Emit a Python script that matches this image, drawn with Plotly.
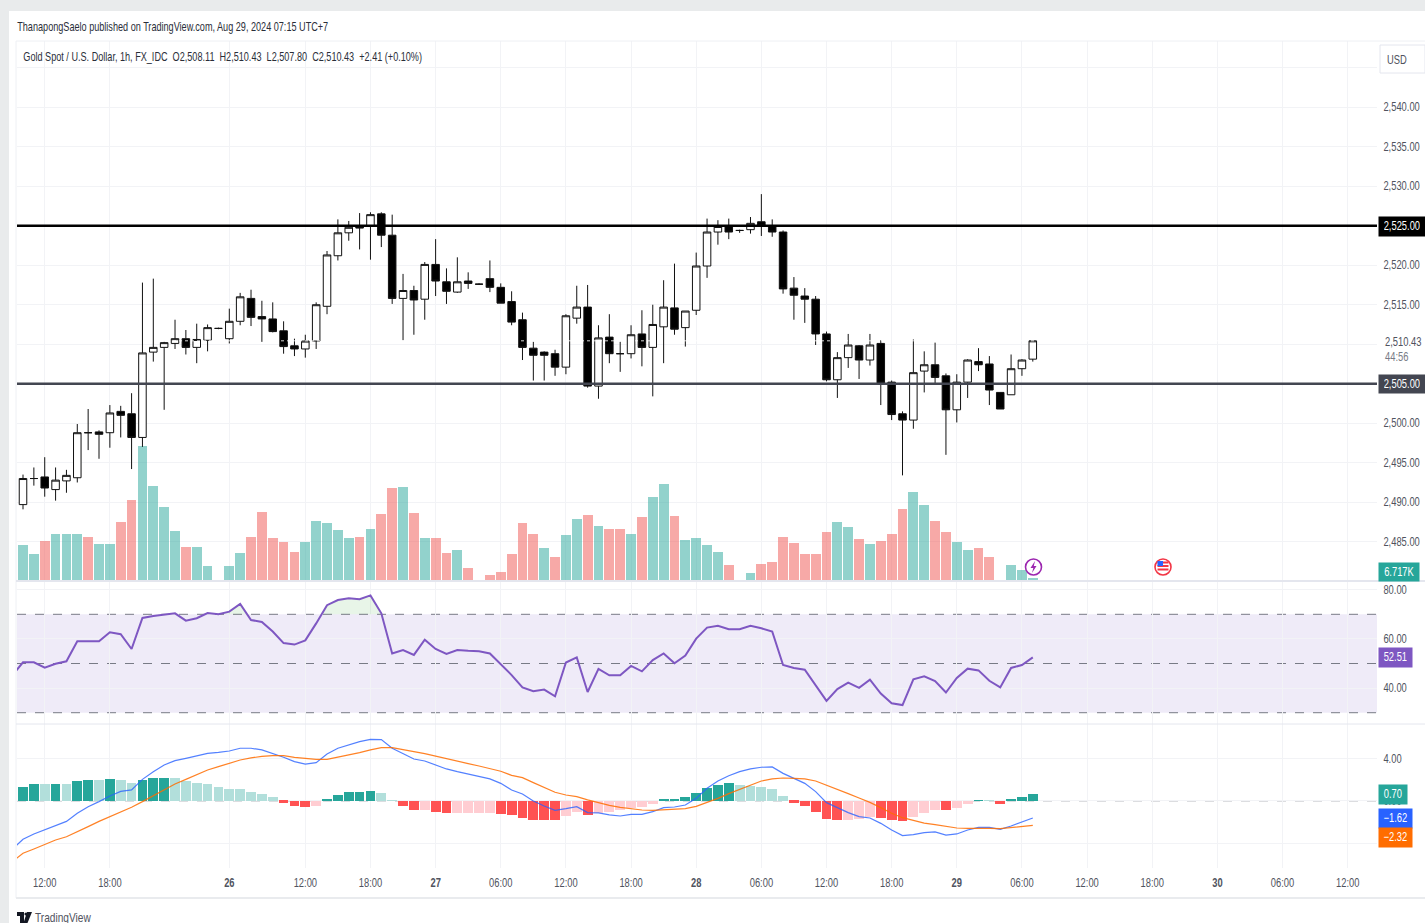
import numpy as np
import plotly.graph_objects as go

W, H = 1425, 923

# ---- price data (1h candles) ----
open_ = [2489.7,2493.0,2493.2,2491.6,2492.7,2493.1,2498.8,2498.9,2498.8,2501.5,2501.2,2498.2,2509.0,2509.6,2510.1,2510.7,2509.6,2510.5,2512.0,2510.7,
 2512.9,2515.8,2513.5,2513.2,2511.7,2509.8,2509.4,2510.4,2514.8,2521.2,2524.1,2525.0,2525.0,2526.5,2523.8,2515.8,2516.8,2515.7,2520.1,2517.9,
 2516.6,2518.0,2517.6,2518.3,2517.2,2515.4,2513.1,2509.5,2509.0,2508.8,2507.1,2513.3,2514.7,2504.7,2510.9,2508.8,2508.8,2511.3,2509.6,2512.2,
 2514.6,2512.1,2514.3,2519.9,2524.2,2525.0,2524.4,2524.5,2525.5,2525.0,2524.2,2517.1,2516.1,2515.7,2511.3,2505.5,2508.3,2509.8,2508.0,2510.1,
 2505.2,2501.2,2500.4,2506.6,2507.4,2506.0,2501.7,2505.2,2507.8,2507.5,2503.9,2503.6,2506.9,2508.11]
high = [2493.5,2494.4,2495.7,2494.4,2494.1,2499.9,2501.8,2499.1,2502.3,2502.2,2503.8,2517.8,2518.3,2510.3,2513.1,2511.8,2512.6,2512.5,2512.1,2514.5,
 2516.5,2516.9,2515.5,2515.3,2512.9,2510.7,2511.2,2515.3,2521.8,2525.8,2525.6,2526.6,2526.7,2526.7,2526.4,2518.9,2517.4,2520.4,2523.3,2519.6,
 2521.0,2519.1,2517.7,2520.6,2517.7,2516.7,2514.0,2510.3,2509.1,2509.3,2513.8,2517.4,2517.5,2512.4,2513.8,2510.3,2512.4,2514.3,2515.0,2518.1,
 2520.2,2514.2,2521.6,2525.9,2525.7,2525.9,2524.5,2526.1,2529.0,2525.8,2524.4,2518.5,2517.1,2516.1,2511.6,2509.0,2511.3,2509.9,2511.3,2510.5,
 2505.4,2501.5,2510.6,2509.1,2510.2,2506.3,2506.2,2508.1,2509.5,2508.5,2503.9,2508.7,2508.1,2510.43]
low = [2489.1,2492.1,2490.7,2490.2,2491.2,2492.5,2496.6,2495.5,2496.9,2498.2,2494.2,2497.0,2507.8,2501.7,2509.4,2508.7,2507.6,2509.1,2511.9,2510.1,
 2512.4,2512.3,2510.3,2511.5,2508.8,2508.5,2508.3,2509.4,2513.8,2520.6,2523.1,2522.0,2520.7,2522.3,2515.1,2510.5,2511.2,2513.1,2516.1,2515.1,
 2516.5,2517.0,2517.5,2516.6,2515.2,2512.4,2508.0,2505.4,2505.4,2506.0,2506.2,2512.6,2504.5,2503.1,2507.6,2506.5,2508.2,2507.2,2503.4,2507.6,
 2511.2,2509.7,2513.7,2518.4,2522.6,2523.3,2524.1,2524.0,2523.7,2523.6,2516.4,2513.1,2512.7,2509.9,2505.3,2503.2,2507.0,2505.6,2507.3,2502.3,
 2500.4,2493.4,2499.3,2503.9,2504.9,2496.0,2500.1,2503.2,2506.6,2502.3,2501.8,2503.6,2506.0,2507.80]
close = [2493.0,2493.0,2491.8,2492.8,2493.4,2498.8,2498.8,2498.6,2501.3,2501.0,2498.2,2508.9,2509.6,2510.2,2510.7,2509.6,2510.6,2512.1,2512.0,2512.9,
 2516.0,2513.4,2513.2,2511.6,2509.7,2509.4,2510.4,2515.0,2521.3,2524.1,2524.8,2524.7,2526.4,2523.8,2515.8,2516.8,2515.6,2520.1,2518.0,2516.7,
 2517.9,2517.7,2517.6,2517.2,2515.2,2512.8,2509.6,2508.6,2508.6,2507.1,2513.6,2514.7,2504.7,2510.8,2508.8,2508.8,2511.2,2509.6,2512.5,2514.7,
 2511.9,2514.2,2519.9,2524.2,2524.9,2524.2,2524.4,2525.3,2525.0,2524.2,2517.0,2516.2,2515.7,2511.3,2505.5,2508.3,2509.9,2508.0,2509.9,2505.1,
 2501.1,2500.4,2506.4,2507.4,2505.8,2501.7,2505.2,2508.0,2507.4,2504.2,2501.8,2506.9,2508.0,2510.43]

vol_k = [73,55,81,94,94,94,88,75,75,119,162,271,191,149,101,68,68,31,3,31,
 57,88,139,86,79,59,79,121,117,103,86,88,105,134,186,188,136,86,86,57,
 62,27,3,13,18,55,117,94,66,48,92,125,133,111,105,105,94,129,168,194,
 131,83,87,73,59,33,3,17,35,39,89,77,55,55,98,118,109,85,74,81,
 94,144,179,153,120,98,79,63,66,48,3,33,22,6.717]
vol_dir = ["u","u","d","u","u","u","d","u","u","d","d","u","u","u","u","d","u","u","d","u",
 "u","d","d","d","d","d","u","u","u","u","u","d","u","d","d","u","d","u","d","d",
 "u","d","d","d","d","d","d","d","u","d","u","u","d","u","d","d","u","d","u","u",
 "d","u","u","u","u","d","d","u","d","d","d","d","d","d","d","u","u","d","u","d",
 "d","d","u","u","d","d","u","u","d","d","d","u","u","u"]

rsi = [50.5,50.5,48.3,49.9,50.9,59.0,59.0,59.0,62.7,61.9,55.9,68.5,69.3,69.9,70.4,67.4,68.4,70.5,70.0,71.1,
 74.2,67.7,66.9,63.0,58.3,57.7,59.4,66.3,73.7,75.8,76.5,76.1,77.7,70.4,54.1,55.5,53.5,59.7,55.9,53.9,
 55.5,55.2,55.0,54.1,49.7,45.3,40.3,38.7,39.4,36.7,50.4,52.5,38.4,47.8,45.2,45.2,49.0,46.8,51.4,54.1,
 50.1,53.2,60.1,64.6,65.3,63.9,63.9,65.3,64.3,63.0,49.4,48.2,47.5,41.3,34.8,39.6,42.2,40.1,43.4,37.8,
 33.8,33.1,43.6,44.8,42.9,38.2,44.1,47.9,47.2,43.0,40.3,48.2,49.4,52.51]
rsi_before_first = 45.1

macd = [-3.65,-3.14,-2.76,-2.35,-1.94,-1.17,-0.54,-0.06,0.48,0.92,1.05,2.06,2.79,3.43,3.84,4.06,4.32,4.54,4.63,4.76,
 5.02,5.02,4.86,4.54,4.16,3.75,3.52,3.65,4.48,5.02,5.37,5.65,5.87,5.84,5.02,4.54,4.00,3.81,3.43,3.05,
 2.79,2.57,2.32,2.10,1.68,1.05,0.67,0.00,-0.48,-0.89,-0.73,-0.54,-1.11,-1.14,-1.33,-1.43,-1.27,-1.27,-1.02,-0.63,
 -0.57,-0.38,0.25,1.21,1.90,2.41,2.79,3.05,3.21,3.24,2.63,2.16,1.68,0.89,-0.16,-0.63,-1.11,-1.49,-1.62,-2.13,
 -2.76,-3.30,-3.21,-3.02,-2.95,-3.24,-3.14,-2.76,-2.51,-2.51,-2.70,-2.38,-2.00,-1.62]
macd_before_first = -4.6
signal = [-4.98,-4.57,-4.13,-3.71,-3.40,-2.95,-2.44,-1.94,-1.49,-1.02,-0.60,-0.06,0.48,1.05,1.62,2.06,2.54,2.95,3.27,3.59,
 3.90,4.10,4.25,4.32,4.32,4.16,4.03,3.97,3.97,4.16,4.35,4.60,4.86,5.08,5.08,4.92,4.70,4.51,4.29,4.03,
 3.81,3.56,3.33,3.11,2.83,2.44,2.22,1.75,1.27,0.83,0.57,0.41,0.10,-0.16,-0.41,-0.60,-0.73,-0.86,-0.89,-0.86,
 -0.79,-0.73,-0.51,-0.16,0.25,0.70,1.11,1.52,1.90,2.10,2.19,2.16,2.10,1.90,1.52,1.11,0.70,0.29,-0.13,-0.63,
 -1.17,-1.59,-1.87,-2.10,-2.25,-2.44,-2.57,-2.60,-2.57,-2.60,-2.63,-2.51,-2.41,-2.32]
signal_before_first = -5.78

hist = [1.37,1.59,1.59,1.59,1.59,1.90,2.00,2.00,2.10,2.00,1.71,2.00,2.22,2.22,2.22,1.90,1.71,1.62,1.37,1.17,
 1.17,0.86,0.67,0.35,-0.16,-0.48,-0.57,-0.48,0.16,0.54,0.86,0.86,0.98,0.76,0.06,-0.48,-0.89,-0.89,-1.02,-1.11,
 -1.11,-1.11,-1.11,-1.11,-1.21,-1.30,-1.62,-1.81,-1.81,-1.81,-1.40,-1.02,-1.30,-1.11,-1.02,-0.86,-0.70,-0.57,-0.25,0.16,
 0.16,0.35,0.76,1.27,1.56,1.68,1.56,1.46,1.37,1.17,0.48,-0.16,-0.48,-1.02,-1.71,-1.81,-1.81,-1.71,-1.52,-1.62,
 -1.81,-1.90,-1.49,-1.11,-0.89,-0.89,-0.67,-0.25,0.06,0.02,-0.25,0.16,0.35,0.70]
hist_kind = ["G","G","g","G","g","G","G","g","G","g","g","G","G","G","g","g","g","g","g","g",
 "g","g","g","g","R","R","R","r","G","G","G","G","G","g","g","R","R","r","R","R",
 "r","r","r","r","R","R","R","R","R","R","r","r","R","r","r","r","r","r","r","G",
 "G","G","G","G","G","G","g","g","g","g","g","R","R","R","R","R","r","r","r","R",
 "R","R","r","r","r","R","r","r","G","g","R","G","G","G"]

tick_index = [2,8,19,26,32,38,44,50,56,62,68,74,80,86,92,98,104,110,116,122]
tick_text = ["12:00","18:00","<b>26</b>","12:00","18:00","<b>27</b>","06:00","12:00","18:00","<b>28</b>","06:00","12:00","18:00","<b>29</b>","06:00","12:00","18:00","<b>30</b>","06:00","12:00"]
price_ticks = [2545,2540,2535,2530,2525,2520,2515,2510,2505,2500,2495,2490,2485]
price_tick_text = ["","2,540.00","2,535.00","2,530.00","","2,520.00","2,515.00","","","2,500.00","2,495.00","2,490.00","2,485.00"]
rsi_ticks = [80,60,40]
rsi_tick_text = ["80.00","60.00","40.00"]
macd_ticks = [4,0,-4]
macd_tick_text = ["4.00","0.00","\u22124.00"]
res_level, sup_level = 2525.0, 2505.0

FONT = "Liberation Sans"
GRID = "#f2f3f6"
TXT = "#50535e"
idx = np.arange(len(close))
X = lambda px: px / W
Y = lambda py: 1 - py / H

fig = go.Figure()

vol_col = {"u": "rgba(38,166,154,0.5)", "d": "rgba(239,83,80,0.5)"}
fig.add_trace(go.Bar(x=idx, y=vol_k, width=0.9, marker=dict(color=[vol_col[d] for d in vol_dir], line=dict(width=0)),
                     yaxis="y", xaxis="x", showlegend=False))
fig.add_trace(go.Candlestick(x=idx, open=open_, high=high, low=low, close=close, yaxis="y2", xaxis="x",
    increasing=dict(line=dict(color="#111111", width=1), fillcolor="#ffffff"),
    decreasing=dict(line=dict(color="#111111", width=1), fillcolor="#000000"),
    whiskerwidth=0, showlegend=False))

rx = np.concatenate([[-1], idx]).astype(float)
ry = np.array([rsi_before_first] + rsi, dtype=float)
ox, oy = [], []
for k in range(len(rx) - 1):
    ox.append(rx[k]); oy.append(max(ry[k], 70))
    if (ry[k] - 70) * (ry[k + 1] - 70) < 0:
        ox.append(rx[k] + (70 - ry[k]) / (ry[k + 1] - ry[k])); oy.append(70)
ox.append(rx[-1]); oy.append(max(ry[-1], 70))
fig.add_trace(go.Scatter(x=ox, y=[70] * len(ox), mode="lines", line=dict(width=0), yaxis="y3", showlegend=False))
fig.add_trace(go.Scatter(x=ox, y=oy, mode="lines", line=dict(width=0), fill="tonexty",
                         fillcolor="rgba(76,175,80,0.13)", yaxis="y3", showlegend=False))
fig.add_trace(go.Scatter(x=rx, y=ry, mode="lines", line=dict(color="#7e57c2", width=2), yaxis="y3", showlegend=False))

hcol = {"G": "#26a69a", "g": "#b2dfdb", "R": "#ff5252", "r": "#ffcdd2"}
fig.add_trace(go.Bar(x=idx, y=hist, width=0.9, marker=dict(color=[hcol[k] for k in hist_kind], line=dict(width=0)),
                     yaxis="y4", showlegend=False))
fig.add_trace(go.Scatter(x=rx, y=[macd_before_first] + macd, mode="lines", line=dict(color="#2962ff", width=1.2),
                         opacity=0.8, yaxis="y4", showlegend=False))
fig.add_trace(go.Scatter(x=rx, y=[signal_before_first] + signal, mode="lines", line=dict(color="#ff6d00", width=1.2),
                         opacity=0.85, yaxis="y4", showlegend=False))

shapes = []
def rect(x0, y0, x1, y1, fill, line=None, layer="below"):
    shapes.append(dict(type="rect", xref="paper", yref="paper", x0=X(x0), x1=X(x1), y0=Y(y0), y1=Y(y1),
                       fillcolor=fill, line=dict(width=1 if line else 0, color=line or "rgba(0,0,0,0)"), layer=layer))
def pline(x0, y0, x1, y1, color, width=1):
    shapes.append(dict(type="line", xref="paper", yref="paper", x0=X(x0), x1=X(x1), y0=Y(y0), y1=Y(y1),
                       line=dict(color=color, width=width), layer="above"))
def ppath(points, fill):
    d = "M" + " L".join(f"{X(a):.5f},{Y(b):.5f}" for a, b in points) + " Z"
    shapes.append(dict(type="path", xref="paper", yref="paper", path=d, fillcolor=fill, line=dict(width=0), layer="above"))
def circ(cx, cy, r, fill, line, lw=1.5):
    shapes.append(dict(type="circle", xref="paper", yref="paper", x0=X(cx - r), x1=X(cx + r), y0=Y(cy + r), y1=Y(cy - r),
                       fillcolor=fill, line=dict(color=line, width=lw), layer="above"))

rect(0, 0, W, 11, "#e9ebec")
rect(0, 0, 9, H, "#e9ebec")
pline(16, 41, W, 41, "#eef0f4", 1)
pline(16, 41, 16, 898, "#eef0f4", 1)
pline(16, 898, W, 898, "#e9ebee", 2)
pline(16, 581, W, 581, "#e4e6ee", 2)
pline(16, 724, W, 724, "#e4e6ee", 1)

for lvl, col in ((res_level, "#000000"), (sup_level, "#434651")):
    shapes.append(dict(type="line", xref="x domain", yref="y2", x0=0, x1=1, y0=lvl, y1=lvl,
                       line=dict(color=col, width=2.4), layer="above"))
shapes.append(dict(type="line", xref="x domain", yref="y2", x0=0, x1=1, y0=close[-1], y1=close[-1],
                   line=dict(color="rgba(255,255,255,0.85)", width=1, dash="dot"), layer="above"))
shapes.append(dict(type="rect", xref="x domain", yref="y3", x0=0, x1=1, y0=30, y1=70,
                   fillcolor="rgba(126,87,194,0.12)", line=dict(width=0), layer="below"))
for lvl in (70, 50, 30):
    shapes.append(dict(type="line", xref="x domain", yref="y3", x0=0, x1=1, y0=lvl, y1=lvl,
                       line=dict(color="#787b86", width=1, dash="dash"), layer="below"))
shapes.append(dict(type="line", xref="x domain", yref="y4", x0=0, x1=1, y0=0, y1=0,
                   line=dict(color="#b8bac0", width=1, dash="dash"), layer="below"))

shapes.append(dict(type="rect", xref="paper", yref="paper", x0=X(1380), x1=X(1425), y0=Y(73), y1=Y(45),
                   fillcolor="#ffffff", line=dict(color="#e4e6ee", width=1), layer="above"))

circ(1033.5, 567, 8, "#ffffff", "#9c27b0", 1.6)
ppath([(1035, 561), (1030.5, 568), (1033.3, 568), (1032, 573), (1036.5, 566), (1033.8, 566)], "#9c27b0")
circ(1163, 567, 8, "#ffffff", "#f23645", 1.6)
for sy in (562.5, 566, 569.5):
    rect(1157.5, sy - 1, 1168.5, sy + 1, "#f23645", layer="above")
rect(1157.5, 561, 1163, 566, "#2962ff", layer="above")

ppath([(17, 912), (24, 912), (24, 923), (20, 923), (20, 916), (17, 916)], "#131722")
circ(26, 914, 1.6, "#131722", "#131722", 0)
ppath([(27, 912), (32, 912), (27.5, 923), (23.5, 923)], "#131722")

ann = []
def text(x, y, s, color=TXT, size=12, anchor="left", **kw):
    ann.append(dict(xref="paper", yref="paper", x=X(x), y=Y(y), text=s, showarrow=False, xanchor=anchor, yanchor="middle",
                    font=dict(family=FONT, size=size, color=color), **kw))
def badge(x0, y0, x1, y1, s, bg):
    ann.append(dict(xref="paper", yref="paper", x=X(x0), y=Y((y0 + y1) / 2), text=s, showarrow=False, xanchor="left", yanchor="middle",
                    width=x1 - x0, height=y1 - y0, align="center", valign="middle", bgcolor=bg, borderpad=0,
                    font=dict(family=FONT, size=12, color="#ffffff")))

text(15, 27, "ThanapongSaelo published on TradingView.com, Aug 29, 2024 07:15 UTC+7", "#2a2e39", 12)
text(21, 57, "Gold Spot / U.S. Dollar, 1h, FX_IDC&nbsp;&nbsp;O2,508.11&nbsp;&nbsp;H2,510.43&nbsp;&nbsp;L2,507.80&nbsp;&nbsp;C2,510.43&nbsp;&nbsp;+2.41 (+0.10%)", "#2a2e39", 12)
text(1385, 60, "USD", TXT, 12)
text(1383, 341.5, "2,510.43", TXT, 12)
text(1383, 357, "44:56", "#787b86", 12)
text(33, 917, "TradingView", "#50535e", 13)
badge(1378, 217, 1424, 236, "2,525.00", "#000000")
badge(1378, 375, 1424, 393, "2,505.00", "#434651")
badge(1378, 563, 1418, 581, "6.717K", "#26a69a")
badge(1378, 648, 1411, 667, "52.51", "#7e57c2")
badge(1378, 785, 1406, 804, "0.70", "#26a69a")
badge(1378, 809, 1411, 828, "\u22121.62", "#2962ff")
badge(1378, 828, 1411, 847, "\u22122.32", "#ff6d00")

ax_font = dict(family=FONT, size=12, color=TXT)
left = -0.553; right = 124.7
def yax(top, bottom, lo, hi, **kw):
    d = dict(domain=[1 - bottom / H, 1 - top / H], range=[lo, hi], side="right", anchor="x", gridcolor=GRID, gridwidth=1,
             zeroline=False, showline=False, ticks="outside", ticklen=3, tickcolor="rgba(0,0,0,0)", tickfont=ax_font,
             tickmode="array", fixedrange=True)
    d.update(kw)
    return d

fig.update_layout(
    width=W, height=H, margin=dict(l=0, r=0, t=0, b=0, autoexpand=False), paper_bgcolor="#ffffff", plot_bgcolor="rgba(0,0,0,0)",
    autosize=False, showlegend=False, barmode="overlay", bargap=0, boxgap=0.1, boxgroupgap=0.23,
    xaxis=dict(domain=[17 / W, 1377 / W], range=[left, right], anchor="y4", tickmode="array", tickvals=tick_index, ticktext=tick_text,
               showgrid=True, gridcolor=GRID, zeroline=False, showline=False, ticks="outside", ticklen=4, tickcolor="rgba(0,0,0,0)",
               tickfont=ax_font, tickangle=0, rangeslider=dict(visible=False), fixedrange=True),
    yaxis=dict(domain=[1 - 581 / H, 1 - 41 / H], range=[0, 1080], visible=False, showgrid=False, anchor="x", fixedrange=True),
    yaxis2=yax(41, 581, 2480.03, 2548.38, overlaying="y", tickvals=price_ticks, ticktext=price_tick_text),
    yaxis3=yax(581, 724, 25.41, 83.54, tickvals=rsi_ticks, ticktext=rsi_tick_text),
    yaxis4=yax(724, 868, -6.38, 7.33, tickvals=macd_ticks, ticktext=macd_tick_text),
    shapes=shapes, annotations=ann, hovermode=False,
)

# The reference's lettering is horizontally condensed: squeeze the real text elements about their anchor.
NARROW_JS = """
document.body.style.margin='0';document.body.style.overflow='hidden';
var centred=['2,525.00','2,505.00','6.717K','52.51','0.70','\\u22121.62','\\u22122.32'];
document.querySelectorAll('svg text').forEach(function(t){
  var b=t.getBBox(); if(!b.width) return;
  var mid=t.closest('.xtick')||centred.indexOf(t.textContent)>=0;
  var x0=mid?b.x+b.width/2:b.x;
  var f=t.textContent.length>30?0.76:0.78;
  var prev=t.getAttribute('transform')||'';
  t.setAttribute('transform',prev+' translate('+x0+',0) scale('+f+',1) translate('+(-x0)+',0)');
});
"""
fig.write_html("out.html", post_script=NARROW_JS, config=dict(displayModeBar=False))
